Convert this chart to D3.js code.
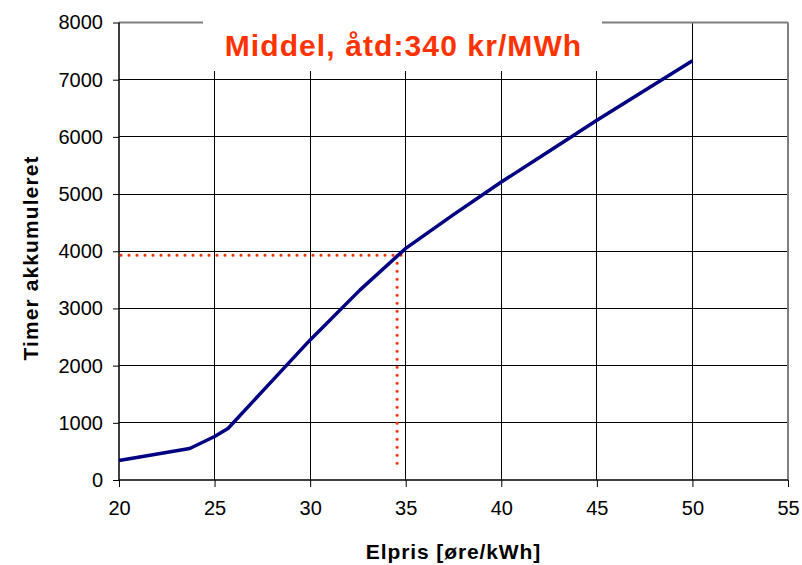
<!DOCTYPE html>
<html>
<head>
<meta charset="utf-8">
<script src="https://cdn.jsdelivr.net/npm/d3@7"></script>
<style>
  html, body { margin: 0; padding: 0; background: #fff; }
  svg { display: block; font-family: Arial, "Liberation Sans", sans-serif; }
</style>
</head>
<body>
<svg id="chart" width="802" height="565"></svg>
<script>
// Duration curve: accumulated hours vs. electricity price
const priceOre = [20, 23.7, 25, 25.7, 27.5, 30, 32.6, 35, 37.5, 40, 42.5, 45, 47.5, 50];
const hoursAcc = [340, 550, 760, 900, 1550, 2450, 3320, 4050, 4640, 5210, 5750, 6290, 6810, 7330];

// Reference lines for the average price
const avgPrice = 34.55;
const avgHours = 3930;
const avgHLineEnd = 34.8;
const avgVLineBottom = 215;

const xTicks = [20, 25, 30, 35, 40, 45, 50, 55];
const yTicks = [0, 1000, 2000, 3000, 4000, 5000, 6000, 7000, 8000];

const titleText = "Middel, åtd:340 kr/MWh";
const xLabel = "Elpris [øre/kWh]";
const yLabel = "Timer akkumuleret";

const svg = d3.select("#chart");
const plotL = 119, plotR = 788, plotT = 22.5, plotB = 480;

const x = d3.scaleLinear().domain([20, 55]).range([plotL, plotR]);
const y = d3.scaleLinear().domain([0, 8000]).range([plotB, plotT]);

// Gridlines
const grid = svg.append("g");
grid.selectAll("line.h").data(yTicks.filter(v => v > 0 && v < 8000)).join("line")
  .attr("x1", plotL).attr("x2", plotR)
  .attr("y1", d => y(d)).attr("y2", d => y(d))
  .attr("stroke", "#000").attr("stroke-width", 1).attr("shape-rendering", "crispEdges");
grid.selectAll("line.v").data(xTicks.filter(v => v > 20 && v < 55)).join("line")
  .attr("x1", d => x(d)).attr("x2", d => x(d))
  .attr("y1", plotT).attr("y2", plotB)
  .attr("stroke", "#000").attr("stroke-width", 1).attr("shape-rendering", "crispEdges");

// Plot frame: grey top and right edges
svg.append("line").attr("x1", plotL).attr("x2", plotR).attr("y1", y(8000)).attr("y2", y(8000))
  .attr("stroke", "#808080").attr("stroke-width", 2);
svg.append("line").attr("x1", x(55)).attr("x2", x(55)).attr("y1", plotT).attr("y2", plotB)
  .attr("stroke", "#808080").attr("stroke-width", 2);

// Axes
const xAxis = d3.axisBottom(x).tickValues(xTicks).tickSize(7).tickPadding(14).tickFormat(d3.format("d"));
const yAxis = d3.axisLeft(y).tickValues(yTicks).tickSize(6).tickPadding(10).tickFormat(d3.format("d"));

const gx = svg.append("g").attr("transform", `translate(0,${plotB})`).call(xAxis);
const gy = svg.append("g").attr("transform", `translate(${plotL},0)`).call(yAxis);
[gx, gy].forEach(g => {
  g.select(".domain").attr("stroke", "#000").attr("stroke-width", 1.5);
  g.selectAll(".tick line").attr("stroke", "#000").attr("stroke-width", 1);
  g.selectAll(".tick text").attr("fill", "#000")
    .style("font-size", "20px").style("font-family", "Arial, 'Liberation Sans', sans-serif");
});
gx.select(".domain").attr("d", `M${plotL},0H${plotR}`);
gy.select(".domain").attr("d", `M0,${plotB}V${plotT}`);

// Title panel covering the top of the grid
svg.append("rect").attr("x", 203).attr("y", 0).attr("width", 399).attr("height", 71).attr("fill", "#fff");
svg.append("text").attr("x", 403.5).attr("y", 56).attr("text-anchor", "middle")
  .attr("fill", "#ff3300").style("font-size", "30px").style("font-weight", "bold")
  .style("letter-spacing", "1.1px")
  .text(titleText);

// Average price markers (dotted)
const dotStyle = sel => sel.attr("stroke", "#ff3300").attr("stroke-width", 3.2)
  .attr("stroke-linecap", "round").attr("stroke-dasharray", "0 8").attr("fill", "none");
svg.append("line").attr("x1", x(20) + 2).attr("x2", x(avgHLineEnd))
  .attr("y1", y(avgHours)).attr("y2", y(avgHours)).call(dotStyle);
svg.append("line").attr("x1", x(avgPrice)).attr("x2", x(avgPrice))
  .attr("y1", y(avgHours)).attr("y2", y(avgVLineBottom)).call(dotStyle);

// Curve
const pts = priceOre.map((p, i) => [p, hoursAcc[i]]);
svg.append("path").datum(pts)
  .attr("d", d3.line().x(d => x(d[0])).y(d => y(d[1])))
  .attr("fill", "none").attr("stroke", "#000080").attr("stroke-width", 3.5)
  .attr("stroke-linejoin", "round");

// Axis titles
svg.append("text").attr("x", (plotL + plotR) / 2).attr("y", 559).attr("text-anchor", "middle")
  .style("font-size", "21px").style("font-weight", "bold").style("letter-spacing", "0.9px")
  .text(xLabel);
svg.append("text").attr("transform", `translate(38,258) rotate(-90)`).attr("text-anchor", "middle")
  .style("font-size", "21px").style("font-weight", "bold").style("letter-spacing", "1.1px")
  .text(yLabel);
</script>
</body>
</html>
